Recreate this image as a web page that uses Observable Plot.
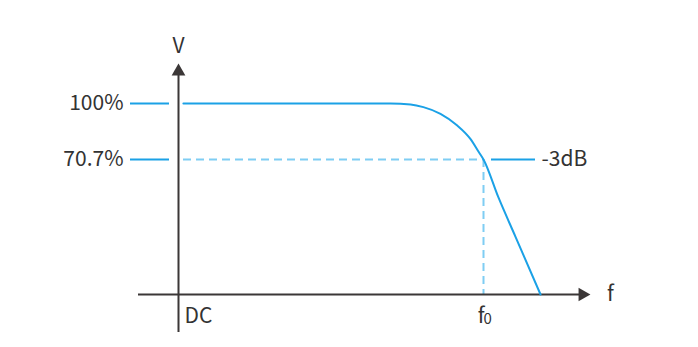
<!DOCTYPE html>
<html>
<head>
<meta charset="utf-8">
<script src="https://cdn.jsdelivr.net/npm/d3@7"></script>
<script src="https://cdn.jsdelivr.net/npm/@observablehq/plot@0.6"></script>
<style>
  html, body { margin: 0; padding: 0; background: #fff; }
  svg { display: block; }
</style>
</head>
<body>
<div id="chart"></div>
<script>
// Frequency response (f in units of f0, V in % of full)
const curveF = [0.016, 0.40, 0.695, 0.761, 0.803, 0.859, 0.914, 0.957, 0.985, 1.0, 1.049, 1.105, 1.187];
const curveV = [100, 100, 100, 99.5, 98.1, 94.6, 88.5, 81.5, 74.5, 70.7, 50.8, 30.2, 0];
const levelV = [100, 70.7];
const levelLabels = ["100%", "70.7%"];
const cutoffF = 1.0;
const cutoffV = 70.7;
const cutoffLabel = "-3dB";
const xLabel = "f";
const yLabel = "V";
const dcLabel = "DC";
const f0Main = "f";
const f0Sub = "0";

const W = 698, H = 347;
const pxPerF = 305, pxPerV = 1.91, x0 = 178, y0 = 294;
const fAt = px => (px - x0) / pxPerF;
const vAt = py => (y0 - py) / pxPerV;

const curve = curveF.map((f, i) => ({f, v: curveV[i]}));
const levels = levelV.map((v, i) => ({v, label: levelLabels[i]}));

const blue = "#1ba1e6";
const lightBlue = "#7fcdf3";
const axisCol = "#3b3737";
const textCol = "#333";
const font = "'Noto Sans CJK SC', 'Noto Sans', sans-serif";

const xMin = fAt(138), xMax = fAt(590);
const yMin = vAt(332), yMax = vAt(63);

const chart = Plot.plot({
  width: W, height: H,
  margin: 0,
  x: {domain: [fAt(0), fAt(W)], axis: null},
  y: {domain: [vAt(H), vAt(0)], axis: null},
  style: {fontFamily: font, background: "#fff"},
  marks: [
    // dashed guides
    Plot.ruleY([cutoffV], {x1: fAt(183), x2: cutoffF, stroke: lightBlue, strokeWidth: 2, strokeDasharray: "8,5"}),
    Plot.ruleX([cutoffF], {y1: cutoffV, y2: 0, stroke: lightBlue, strokeWidth: 2, strokeDasharray: "8,5"}),
    // level ticks on the left
    Plot.ruleY(levels, {y: "v", x1: fAt(130), x2: fAt(169), stroke: blue, strokeWidth: 2}),
    // -3dB marker on right
    Plot.ruleY([cutoffV], {x1: fAt(491), x2: fAt(535), stroke: blue, strokeWidth: 2}),
    // axes
    Plot.ruleY([0], {x1: xMin, x2: xMax - 10 / pxPerF, stroke: axisCol, strokeWidth: 2}),
    Plot.ruleX([0], {y1: yMin, y2: yMax - 10 / pxPerV, stroke: axisCol, strokeWidth: 2}),
    Plot.dot([{f: xMax, v: 0}], {x: "f", y: "v", symbol: "triangle", rotate: 90, r: 5.1, fill: axisCol, stroke: null, dx: -8}),
    Plot.dot([{f: 0, v: yMax}], {x: "f", y: "v", symbol: "triangle", r: 5.1, fill: axisCol, stroke: null, dy: 8}),
    // response curve
    Plot.line(curve, {x: "f", y: "v", curve: "monotone-x", stroke: blue, strokeWidth: 2}),
    // labels
    Plot.text(levels, {x: fAt(123), y: "v", text: "label", textAnchor: "end", fontSize: 21, fill: textCol}),
    Plot.text([cutoffLabel], {x: fAt(541), y: cutoffV, text: d => d, textAnchor: "start", fontSize: 21, fill: textCol}),
    Plot.text([yLabel], {x: 0, y: vAt(46), text: d => d, fontSize: 21, fill: textCol}),
    Plot.text([xLabel], {x: fAt(610), y: vAt(294), text: d => d, fontSize: 21, fill: textCol}),
    Plot.text([dcLabel], {x: fAt(184), y: vAt(316), text: d => d, textAnchor: "start", fontSize: 21, fill: textCol}),
    Plot.text([f0Main], {x: cutoffF, y: vAt(316), text: d => d, textAnchor: "end", dx: 1, fontSize: 21, fill: textCol}),
    Plot.text([f0Sub], {x: cutoffF, y: vAt(319), text: d => d, textAnchor: "start", dx: 0, fontSize: 15, fill: textCol})
  ]
});
document.getElementById("chart").appendChild(chart);
</script>
</body>
</html>
